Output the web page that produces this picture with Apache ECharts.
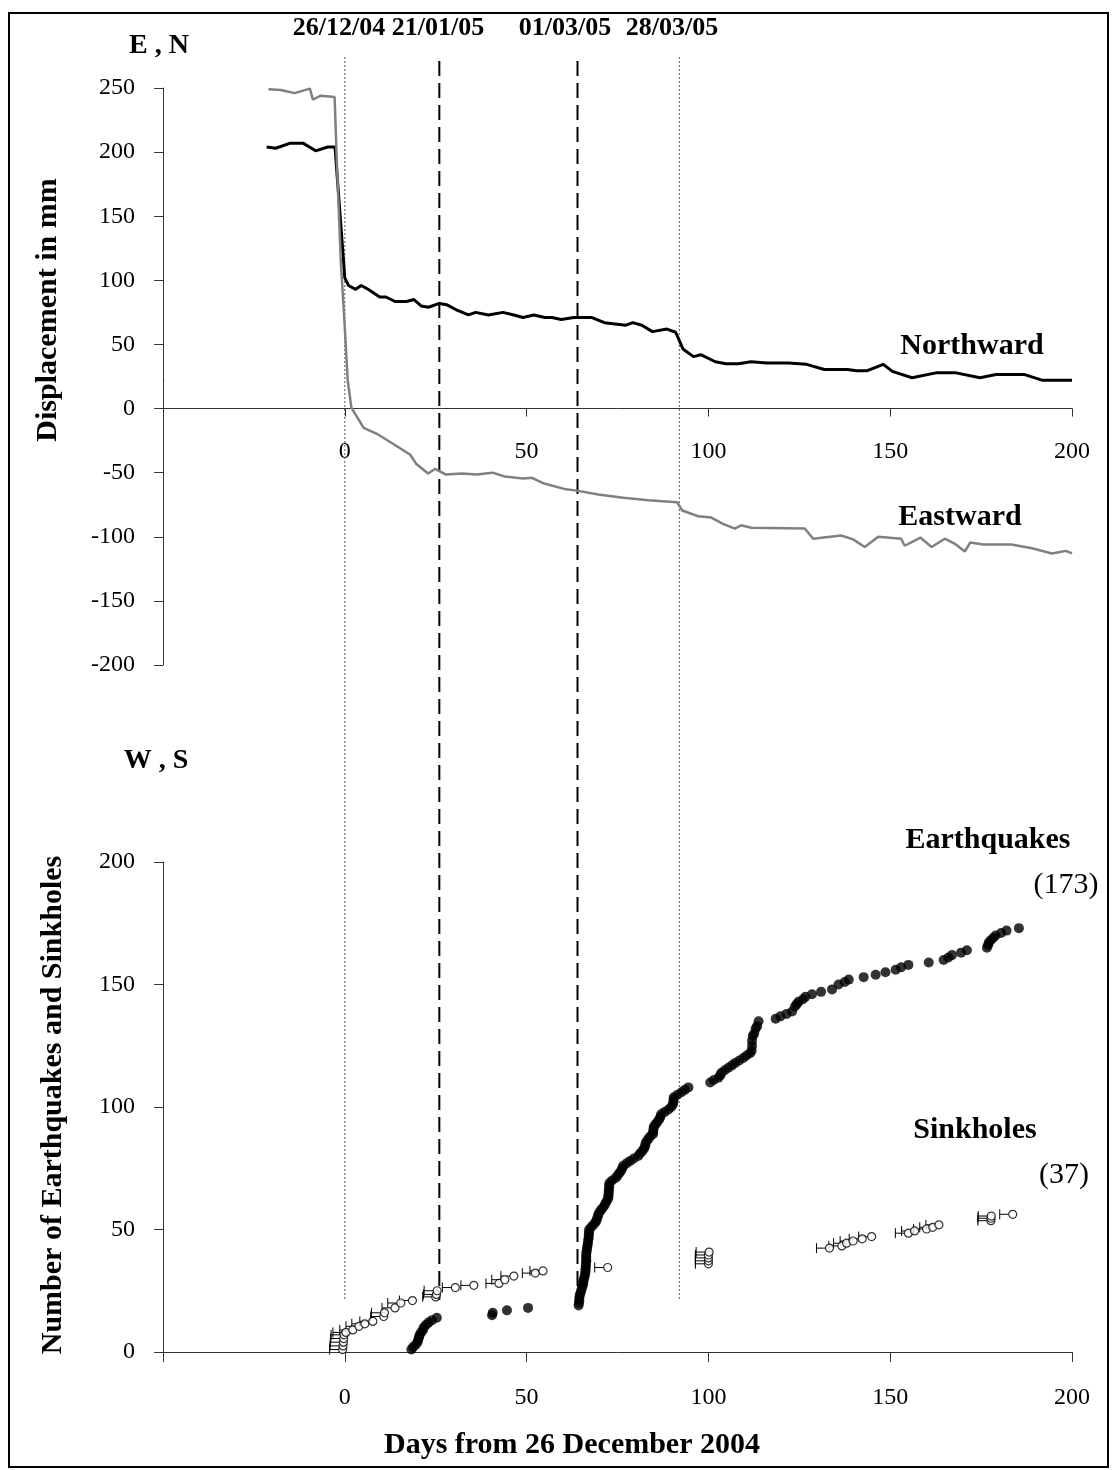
<!DOCTYPE html>
<html>
<head>
<meta charset="utf-8">
<script src="https://cdn.jsdelivr.net/npm/echarts@6/dist/echarts.min.js"></script>
<style>
html,body{margin:0;padding:0;background:#fff;}
#main{width:1112px;height:1470px;}
</style>
</head>
<body>
<div id="main"></div>
<script>
// GPS displacement (mm) against days from 26 Dec 2004
var northward = [[-21.5,204],[-19,203],[-15,207],[-11.5,207],[-8,201],[-4.7,204],[-2.7,204],[0,102],[1,96],[3,93],[4.5,96],[6.4,93],[9.6,87],[11.3,87],[13.8,83.5],[17,83.5],[19,85],[21,80],[23,79],[26,82],[28,81],[31,76.5],[34,73],[36,75],[39.5,73],[43.5,75],[46.5,73],[49,71],[52,73],[55,71],[57,71],[59.5,69.5],[63,71],[68,71],[71.4,67],[77.3,65],[79.2,67],[81.7,65],[84.6,60],[88.6,62],[91,59.5],[93,46.5],[95.9,40.5],[97.9,42],[101.9,36.5],[104.8,35],[108.3,35],[111.7,36.5],[116.1,35.5],[122,35.5],[127,34.5],[131.9,30.5],[138.3,30.5],[140.7,29.5],[143.7,29.5],[148.1,34.5],[150.6,29],[156,24],[162.9,28],[167.8,28],[174.7,24],[179.1,26.5],[187,26.5],[191.9,22],[200,22]];
var eastward = [[-21,249],[-17.6,248.5],[-13.8,246],[-9.6,249.5],[-8.8,241],[-6.6,244],[-2.8,243],[-2.2,193],[-1.1,115],[0,63],[0.8,22],[1.8,1],[2.8,-4],[5.2,-15],[8.7,-19.5],[12.7,-26.5],[18,-36],[19.6,-43],[22.9,-50.7],[24.9,-47],[27.8,-51.5],[32.2,-50.7],[36.2,-51.5],[40.6,-50],[44,-53],[49,-54.6],[51.5,-54],[54.8,-58.5],[60.8,-63],[63.8,-64],[69.7,-67],[76.6,-69.5],[83.5,-71.5],[91.4,-73],[92.8,-79.5],[97.2,-84],[100.8,-85],[104,-90],[107.3,-93.6],[109,-91],[111.8,-93],[126.5,-93.6],[128.8,-101.5],[136.5,-99],[139.8,-102],[143,-108],[146.7,-100],[153,-101.5],[154,-107],[158.3,-100.6],[161.4,-108],[165,-101.5],[167.8,-105.5],[170.5,-111.5],[172,-104.5],[175.6,-106],[183.3,-106],[189,-109],[194.5,-113],[198.3,-111],[200,-113]];

// cumulative counts
var earthquakes = [[18.3,1],[18.8,2],[19.5,3],[20,4],[20.2,5],[20.4,6],[20.6,7],[21,8],[21.5,9],[21.7,10],[22.3,11],[23,12],[24,13],[25.3,14],
  [40.5,15],[40.7,16],[44.6,17],[50.4,18],
  [64.3,19],[64.4,20],[64.5,21],[64.5,22],[64.6,23],[64.8,24],[65,25],[65.2,26],[65.4,27],[65.6,28],[65.6,29],[65.8,30],[66,31],[66.1,32],[66.2,33],[66.2,34],[66.3,35],[66.3,36],[66.4,37],[66.4,38],[66.4,39],[66.4,40],[66.5,41],[66.6,42],[66.7,43],[66.8,44],[66.9,45],[67,46],[67.1,47],[67.1,48],[67.2,49],[67.2,50],[67.8,51],[68.4,52],[69,53],[69.3,54],[69.5,55],[69.7,56],[70,57],[70.5,58],[71,59],[71.5,60],[71.8,61],[72.2,62],[72.5,63],[72.5,64],[72.6,65],[72.6,66],[72.7,67],[72.7,68],[72.8,69],[73.5,70],[74.5,71],[75,72],[75.5,73],[76,74],[76.3,75],[76.6,76],[77.5,77],[78.5,78],[79.5,79],[80.7,80],[81.2,81],[81.8,82],[82.3,83],[82.6,84],[82.7,85],[83,86],[83.5,87],[84,88],[84.8,89],[84.8,90],[84.9,91],[85,92],[85.5,93],[86,94],[86.5,95],[86.8,96],[87,97],[88,98],[89,99],[89.8,100],[90.2,101],[90.4,102],[90.4,103],[90.5,104],[91.5,105],[92.6,106],[93.5,107],[94.5,108],
  [100.5,110],[101.5,111],[102.8,112],[103.3,113],[103.6,114],[104.5,115],[105.5,116],[106.5,117],[107.4,118],[108.5,119],[109.6,120],[110.5,121],[111.5,122],[111.9,123],[112,125],[112,127],[112.2,129],[112.6,130],[113,132],[113.4,133],[113.8,135],
  [118.5,136],[119.8,137],[121.5,138],[123,139],[123.8,141],[124.3,142],[124.8,143],[126,144],[126.7,145],[128.5,146],[131,147],[134,148],[135.8,150],[137.5,151],[138.6,152],[142.7,153],[146,154],[148.7,155],[151.5,156],[153,157],[155,158],[160.6,159],[164.7,160],[166,161],[167,162],[169.5,163],[171.1,164],[176.6,165],[176.9,166],[177.1,167],[177.6,168],[178.3,169],[179,170],[180.5,171],[182,172],[185.4,173]];
var sinkholes = [[-0.6,1],[-0.5,2.5],[-0.4,4],[-0.3,5.5],[-0.2,7],[0.3,8],[2.2,9],[3.9,10.5],[5.5,11.5],[7.7,12.5],[10.7,14.5],[10.9,16],[13.8,18],[15.4,20],[18.6,21],[25,22.5],[25.2,23.5],[25.4,25],[30.4,26.3],[35.5,27.2],[42.4,28],[44,29.5],[46.5,31],[52.4,32.2],[54.5,33.1],[72.3,34.5],[100,36],[100,37.2],[100,38.4],[100,39.6],[100.2,40.8],[133.3,42.4],[136.7,43.3],[138,44.4],[139.8,45.3],[142.3,46.2],[144.9,47.1],[155,48.5],[156.7,49.4],[160,50.2],[161.7,50.9],[163.4,51.9],[177.7,53.6],[177.7,54.6],[177.8,55.5],[183.7,56.2]];

var dayTicks = [0, 50, 100, 150, 200];
var eventDays = [0, 26, 64, 92];
var eventKinds = ['dotted', 'dashed', 'dashed', 'dotted'];
var eventLabels = ['26/12/04', '21/01/05', '01/03/05', '28/03/05'];

var FONT = '"Liberation Serif", "Times New Roman", serif';

var myChart = echarts.init(document.getElementById('main'));

function axisStyle(min, max, labelMargin, tickLen) {
    return {
        type: 'value', min: min, max: max, interval: 50,
        axisLine: {show: true, onZero: true, lineStyle: {color: '#333', width: 1}},
        axisTick: {show: true, length: tickLen, lineStyle: {color: '#333'}},
        axisLabel: {margin: labelMargin, fontSize: 24, fontFamily: FONT, color: '#000'},
        splitLine: {show: false}
    };
}

var xTop = axisStyle(-50, 200, 30, 8);
xTop.gridIndex = 0;
xTop.axisLabel.show = false; // drawn below the zero line instead
var xBot = axisStyle(-50, 200, 34, 10);
xBot.gridIndex = 1;
xBot.axisLabel.formatter = function (v) { return v < 0 ? '' : v; };
var yTop = axisStyle(-200, 250, 28, 9);
yTop.gridIndex = 0;
yTop.axisLine.onZero = false;
var yBot = axisStyle(0, 200, 28, 9);
yBot.gridIndex = 1;
yBot.axisLine.onZero = false;

function renderBar(params, api) {
    var p = api.coord([api.value(0), api.value(1)]);
    var st = {stroke: '#000', lineWidth: 1};
    return {type: 'group', children: [
        {type: 'line', shape: {x1: p[0] - 13, y1: p[1], x2: p[0] - 4, y2: p[1]}, style: st},
        {type: 'line', shape: {x1: p[0] - 13, y1: p[1] - 5, x2: p[0] - 13, y2: p[1] + 5}, style: st}
    ]};
}

function label(text, x, y, size, bold, rot) {
    return {
        type: 'text', x: x, y: y, rotation: rot || 0,
        style: {text: text, fontFamily: FONT, fontSize: size, fontWeight: bold ? 'bold' : 'normal',
            fill: '#000', textAlign: 'center', textVerticalAlign: 'middle'}
    };
}

var option = {
    animation: false,
    backgroundColor: '#fff',
    grid: [
        {left: 163, top: 88, width: 909, height: 577},
        {left: 163, top: 862, width: 909, height: 490}
    ],
    xAxis: [xTop, xBot],
    yAxis: [yTop, yBot],
    series: [
        {name: 'Northward', type: 'line', xAxisIndex: 0, yAxisIndex: 0, data: northward,
            symbol: 'none', lineStyle: {color: '#000', width: 3}, z: 3},
        {name: 'Eastward', type: 'line', xAxisIndex: 0, yAxisIndex: 0, data: eastward,
            symbol: 'none', lineStyle: {color: '#808080', width: 2.5}, z: 3},
        {name: 'Earthquakes', type: 'scatter', xAxisIndex: 1, yAxisIndex: 1, data: earthquakes,
            symbol: 'circle', symbolSize: 10, itemStyle: {color: '#000'}, z: 3},
        {name: 'SinkholeBars', type: 'custom', xAxisIndex: 1, yAxisIndex: 1, data: sinkholes,
            renderItem: renderBar, z: 3},
        {name: 'Sinkholes', type: 'scatter', xAxisIndex: 1, yAxisIndex: 1, data: sinkholes,
            symbol: 'circle', symbolSize: 8,
            itemStyle: {color: '#fff', borderColor: '#000', borderWidth: 1.2}, z: 4}
    ]
};
myChart.setOption(option);

var graphics = [];
// tick labels of the upper panel sit just under the zero line
var zeroY = myChart.convertToPixel({yAxisIndex: 0}, 0);
dayTicks.forEach(function (d) {
    var x = myChart.convertToPixel({xAxisIndex: 0}, d);
    graphics.push(label(String(d), x, zeroY + 43, 24, false));
});
// event lines through both panels, placed by the x scale
eventDays.forEach(function (d, i) {
    var x = myChart.convertToPixel({xAxisIndex: 0}, d);
    var dashed = eventKinds[i] === 'dashed';
    graphics.push({
        type: 'line', z: 1,
        shape: {x1: x, y1: dashed ? 61 : 57, x2: x, y2: 1300},
        style: dashed ? {stroke: '#000', lineWidth: 2, lineDash: [15, 7]}
                      : {stroke: '#555', lineWidth: 1, lineDash: [2, 2]}
    });
});
var labelX = [339, 438, 565, 672];
eventLabels.forEach(function (t, i) {
    graphics.push(label(t, labelX[i], 28, 26, true));
});
graphics.push(label('E , N', 159, 46, 28, true));
graphics.push(label('W , S', 156, 761, 28, true));
graphics.push(label('Displacement in mm', 48, 310, 30, true, Math.PI / 2));
graphics.push(label('Number of Earthquakes and Sinkholes', 53, 1105, 30, true, Math.PI / 2));
graphics.push(label('Northward', 972, 346, 30, true));
graphics.push(label('Eastward', 960, 517, 30, true));
graphics.push(label('Earthquakes', 988, 840, 30, true));
graphics.push(label('(173)', 1066, 885, 30, false));
graphics.push(label('Sinkholes', 975, 1130, 30, true));
graphics.push(label('(37)', 1064, 1175, 30, false));
graphics.push(label('Days from 26 December 2004', 572, 1445, 30, true));
graphics.push({type: 'rect', shape: {x: 9, y: 13, width: 1099, height: 1454},
    style: {fill: 'none', stroke: '#000', lineWidth: 2}, z: 0});
myChart.setOption({graphic: graphics});
</script>
</body>
</html>
